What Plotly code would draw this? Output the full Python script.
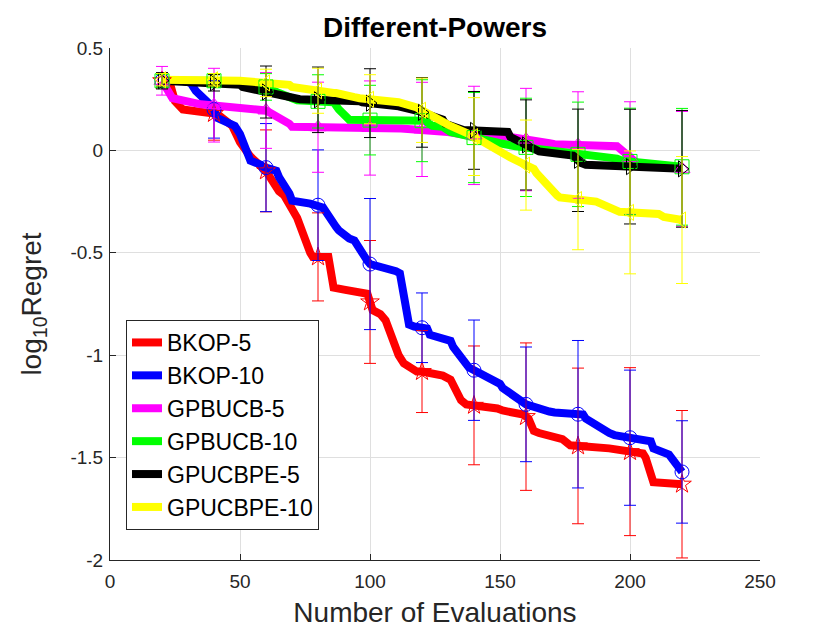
import numpy as np
import plotly.graph_objects as go


# step-like regret curves (x = number of evaluations)
bkop5_x = [20, 23, 25, 28, 40, 42, 47, 50, 54, 58, 60, 62, 65, 67, 72, 77, 78, 84, 86, 90, 95, 99, 100,
           101, 104, 106, 111, 113, 118, 120, 128, 131, 135, 137, 149, 151, 159, 161, 163, 165, 174, 177,
           192, 194, 205, 206, 208, 209, 220]
bkop5_y = [0.34, 0.33, 0.24, 0.20, 0.18, 0.17, 0.12, 0.04, -0.03, -0.08, -0.10, -0.14, -0.20, -0.22, -0.33,
           -0.50, -0.52, -0.52, -0.67, -0.68, -0.69, -0.70, -0.74, -0.78, -0.80, -0.83, -1.00, -1.04, -1.08,
           -1.08, -1.10, -1.12, -1.22, -1.24, -1.26, -1.27, -1.29, -1.31, -1.37, -1.38, -1.41, -1.44, -1.455,
           -1.46, -1.48, -1.50, -1.60, -1.62, -1.63]

bkop10_x = [20, 28, 31, 33, 38, 40, 41, 48, 50, 53, 54, 58, 59, 64, 65, 69, 70, 77, 81, 82, 87, 88, 92, 94,
            99, 100, 110, 111.5, 115, 117, 122, 123, 131, 132, 138, 141, 150, 151, 159, 160, 169, 171, 182,
            183, 192, 194, 208, 209, 215, 216, 220]
bkop10_y = [0.34, 0.34, 0.33, 0.29, 0.23, 0.20, 0.16, 0.12, 0.08, -0.015, -0.05, -0.07, -0.08, -0.10, -0.13,
            -0.21, -0.245, -0.26, -0.27, -0.28, -0.375, -0.39, -0.43, -0.44, -0.54, -0.555, -0.59, -0.60,
            -0.85, -0.86, -0.87, -0.90, -0.93, -0.96, -1.06, -1.08, -1.14, -1.16, -1.23, -1.24, -1.275, -1.28,
            -1.29, -1.31, -1.38, -1.39, -1.42, -1.455, -1.485, -1.50, -1.57]

gpbucb5_x = [20, 23, 24, 35, 59, 60, 69, 70, 112, 128, 130, 137, 154, 169, 171, 195, 197, 201, 203, 220]
gpbucb5_y = [0.34, 0.27, 0.255, 0.225, 0.205, 0.195, 0.13, 0.115, 0.107, 0.098, 0.09, 0.075, 0.065, 0.035,
             0.03, 0.02, 0.0, -0.05, -0.065, -0.09]

gpbucb10_x = [20, 40, 55, 60, 65, 72, 86, 88, 92, 111, 121, 124, 128, 131, 137, 141, 150, 156, 175, 177,
              195, 197, 220]
gpbucb10_y = [0.34, 0.34, 0.32, 0.31, 0.28, 0.245, 0.235, 0.20, 0.15, 0.145, 0.145, 0.12, 0.115, 0.09, 0.07,
              0.06, 0.035, 0.02, -0.005, -0.015, -0.04, -0.05, -0.08]

gpucbpe5_x = [20, 40, 50, 51, 59, 60, 72, 73, 96, 97, 111, 119, 128, 129, 136, 153, 154, 165, 178, 181,
              183, 220]
gpucbpe5_y = [0.34, 0.33, 0.32, 0.31, 0.29, 0.285, 0.255, 0.25, 0.24, 0.235, 0.215, 0.19, 0.15, 0.13, 0.10,
              0.09, 0.065, -0.005, -0.025, -0.06, -0.07, -0.09]

gpucbpe10_x = [20, 48, 50, 69, 70, 86, 87, 94, 96, 111, 117, 118, 128, 130, 139, 141, 152, 154, 163, 164,
               172, 173, 187, 189, 194, 196, 211, 213, 220]
gpucbpe10_y = [0.345, 0.345, 0.34, 0.32, 0.31, 0.28, 0.28, 0.26, 0.255, 0.235, 0.215, 0.21, 0.14, 0.125,
               0.075, 0.06, -0.02, -0.035, -0.09, -0.11, -0.22, -0.23, -0.25, -0.26, -0.295, -0.30, -0.31,
               -0.325, -0.34]

# marker / error bar positions and half widths
mark_x = [20, 40, 60, 80, 100, 120, 140, 160, 180, 200, 220]
bkop5_err = [0.03, 0.13, 0.20, 0.215, 0.30, 0.20, 0.29, 0.36, 0.38, 0.41, 0.36]
bkop10_err = [0.03, 0.14, 0.215, 0.27, 0.32, 0.17, 0.245, 0.28, 0.36, 0.33, 0.25]
gpbucb5_err = [0.07, 0.18, 0.185, 0.22, 0.23, 0.23, 0.24, 0.25, 0.26, 0.275, 0.28]
gpbucb10_err = [0.03, 0.03, 0.065, 0.13, 0.17, 0.20, 0.22, 0.24, 0.255, 0.26, 0.285]
gpucbpe5_err = [0.04, 0.04, 0.127, 0.16, 0.168, 0.17, 0.19, 0.22, 0.25, 0.28, 0.285]
gpucbpe10_err = [0.03, 0.03, 0.067, 0.11, 0.12, 0.157, 0.19, 0.22, 0.245, 0.30, 0.31]

y_ticks = [-2, -1.5, -1, -0.5, 0, 0.5]
y_tick_text = ['-2', '-1.5', '-1', '-0.5', '0', '0.5']

series = [
    ('BKOP-5', bkop5_x, bkop5_y, bkop5_err, '#ff0000', 'star-open'),
    ('BKOP-10', bkop10_x, bkop10_y, bkop10_err, '#0000ff', 'circle-open'),
    ('GPBUCB-5', gpbucb5_x, gpbucb5_y, gpbucb5_err, '#ff00ff', 'triangle-up-open'),
    ('GPBUCB-10', gpbucb10_x, gpbucb10_y, gpbucb10_err, '#00ff00', 'square-open'),
    ('GPUCBPE-5', gpucbpe5_x, gpucbpe5_y, gpucbpe5_err, '#000000', 'triangle-right-open'),
    ('GPUCBPE-10', gpucbpe10_x, gpucbpe10_y, gpucbpe10_err, '#ffff00', 'triangle-left-open'),
]

fig = go.Figure()

for name, xs, ys, err, color, symbol in series:
    fig.add_trace(go.Scatter(x=xs, y=ys, mode='lines', name=name, legendgroup=name,
                             line=dict(color=color, width=8)))

# markers with error bars go on top of all the thick lines
for name, xs, ys, err, color, symbol in series:
    mark_y = np.interp(mark_x, xs, ys)
    fig.add_trace(go.Scatter(x=mark_x, y=mark_y, mode='markers', showlegend=False, legendgroup=name,
                             marker=dict(symbol=symbol, size=14, color=color, line=dict(color=color, width=1)),
                             error_y=dict(type='data', array=err, color=color, thickness=1, width=6)))

axis_style = dict(showline=True, linecolor='#262626', linewidth=1, mirror=False, ticks='inside', ticklen=6,
                  tickcolor='#262626', showgrid=True, gridcolor='#dfdfdf', zeroline=False,
                  tickfont=dict(size=19, color='#262626'))

# page body adds an 8px offset, margins are set with that in mind
fig.update_layout(
    width=840, height=630,
    margin=dict(l=102, r=88, t=40, b=78),
    paper_bgcolor='white', plot_bgcolor='white',
    font=dict(family='Liberation Sans, Arial, sans-serif', color='#262626'),
    title=dict(text='Different-Powers', x=0.5, xref='paper', y=0.97, yref='container', yanchor='middle',
               font=dict(size=28, color='black', weight='bold')),
    xaxis=dict(range=[0, 250], dtick=50, ticklabelstandoff=4,
               title=dict(text='Number of Evaluations', font=dict(size=28), standoff=11), **axis_style),
    yaxis=dict(range=[-2, 0.5], tickvals=y_ticks, ticktext=y_tick_text, ticklabelstandoff=2,
               title=dict(text='log<sub>10</sub>Regret', font=dict(size=28), standoff=20), **axis_style),
    legend=dict(x=0.0246, y=0.0586, xanchor='left', yanchor='bottom', bgcolor='white', bordercolor='#262626',
                borderwidth=1, font=dict(size=23, color='black'), tracegroupgap=0),
)

fig.write_html('out.html')
